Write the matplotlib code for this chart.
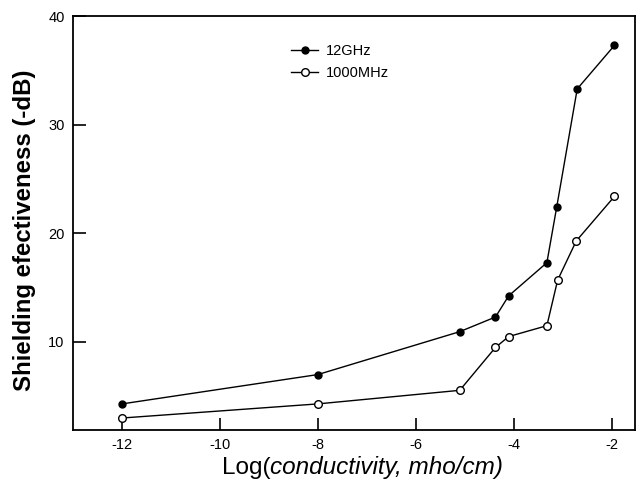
import matplotlib
matplotlib.use("Agg")
import matplotlib.pyplot as plt

x_12ghz = [-12, -8, -5.1, -4.37, -4.1, -3.32, -3.12, -2.70, -1.94]
y_12ghz = [4.3, 7.0, 10.95, 12.3, 14.25, 17.3, 22.4, 33.3, 37.3]
x_1000mhz = [-12, -8, -5.1, -4.37, -4.1, -3.32, -3.1, -2.72, -1.94]
y_1000mhz = [3.0, 4.3, 5.55, 9.5, 10.5, 11.5, 15.7, 19.3, 23.4]
xticks = [-12, -10, -8, -6, -4, -2]
yticks = [10, 20, 30, 40]

plt.rcParams['font.family'] = ['Liberation Sans', 'DejaVu Sans']
plt.rcParams['axes.unicode_minus'] = False
fig = plt.figure(figsize=(6.38, 4.88), dpi=100)
ax = fig.add_axes([0.1144, 0.1189, 0.8809, 0.8481])

ax.plot(x_12ghz, y_12ghz, '-o', color='black', lw=1.0, ms=5,
        mfc='black', mec='black', label='12GHz')
ax.plot(x_1000mhz, y_1000mhz, '-o', color='black', lw=1.0, ms=5.5,
        mfc='white', mec='black', mew=1.0, label='1000MHz')

ax.set_xlim(-13, -1.52)
ax.set_ylim(1.9, 40)
ax.set_xticks(xticks)
ax.set_yticks(yticks)
ax.tick_params(direction='in', length=9, width=1.2, labelsize=10.5,
               top=False, right=False, pad=6)
for s in ax.spines.values():
    s.set_linewidth(1.3)

fig.text(25 / 638, 1 - 230 / 488, 'Shielding efectiveness (-dB)', fontsize=17.3,
         fontweight='bold', rotation=90, ha='center', va='center')

# x label with mixed style
t1 = fig.text(222 / 638, 0.018, 'Log(', fontsize=17.5, ha='left', va='bottom')
fig.canvas.draw()
r = fig.canvas.get_renderer()
bb = t1.get_window_extent(r)
t2 = fig.text(bb.x1 / fig.bbox.width, 0.018, 'conductivity, mho/cm)', fontsize=17.5,
              style='italic', ha='left', va='bottom')

leg = ax.legend(loc='upper left', bbox_to_anchor=(0.365, 0.965), frameon=False,
                fontsize=10.5, handlelength=1.85, handletextpad=0.55, labelspacing=0.55)

fig.savefig('out.png', dpi=100)
